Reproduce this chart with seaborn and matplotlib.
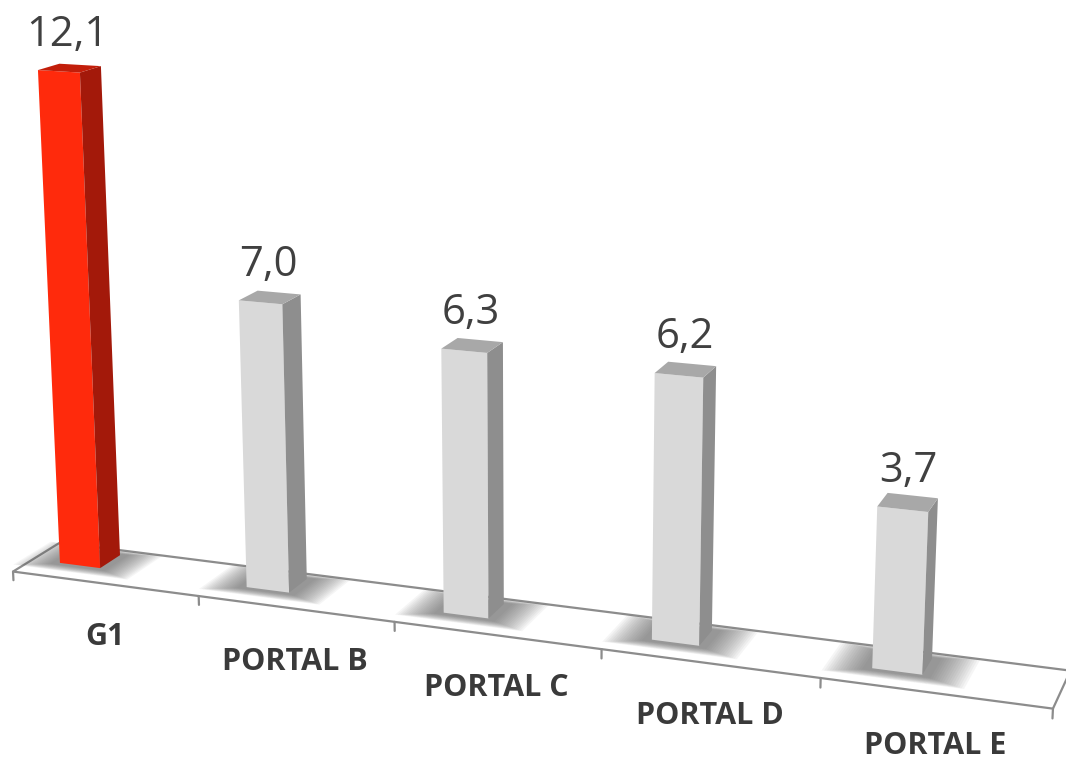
import numpy as np
import matplotlib
matplotlib.use("Agg")
import matplotlib.pyplot as plt
import matplotlib.transforms as mtransforms
from matplotlib.patches import Polygon
import seaborn as sns

# Data
categories = ["G1", "PORTAL B", "PORTAL C", "PORTAL D", "PORTAL E"]
values = [12.1, 7.0, 6.3, 6.2, 3.7]
front_colors = ["#FF2A0C", "#D9D9D9", "#D9D9D9", "#D9D9D9", "#D9D9D9"]
side_colors = ["#A3190A", "#8E8E8E", "#8E8E8E", "#8E8E8E", "#8E8E8E"]
top_colors = ["#C21E0A", "#A8A8A8", "#A8A8A8", "#A8A8A8", "#A8A8A8"]

# Perspective camera: (category, value, depth, 1) -> canvas pixels (homogeneous)
CAMERA = np.array([
    [180.8, -1.96, 97.3, 80.0],
    [8.9, -41.1, -23.8, 565.5],
    [-0.0262, -0.00363, 0.0626, 1.0],
])
BAR_WIDTH = 0.22
BAR_DEPTH = 0.22
FLOOR_X = (-0.26, 4.70)
FLOOR_Z = (-0.206, 0.293)
W_PX, H_PX = 1066, 762


def project(x, y, z):
    pts = np.column_stack([np.atleast_1d(x), np.atleast_1d(y), np.atleast_1d(z),
                           np.ones(np.size(np.atleast_1d(x)))]).astype(float)
    h = pts @ CAMERA.T
    return h[:, :2] / h[:, 2:3]


class Perspective(mtransforms.Transform):
    """Maps the front plane (category, value) at a given depth into canvas pixels."""
    input_dims = 2
    output_dims = 2
    is_separable = False
    has_inverse = False

    def __init__(self, z=0.0):
        super().__init__()
        self.z = z

    def transform_non_affine(self, values):
        values = np.asarray(values, dtype=float).reshape(-1, 2)
        return project(values[:, 0], values[:, 1], np.full(len(values), self.z))


sns.set_style("white")
fig = plt.figure(figsize=(W_PX / 100, H_PX / 100), dpi=100)
ax = fig.add_axes([0, 0, 1, 1])

sns.barplot(x=categories, y=values, hue=categories, palette=front_colors,
            width=BAR_WIDTH, linewidth=0, legend=False, ax=ax, saturation=1)

bars = list(ax.patches)

# Canvas in pixel units
ax.set_xlim(0, W_PX)
ax.set_ylim(H_PX, 0)
ax.set_axis_off()

persp = Perspective(0.0) + ax.transData

# Floor plane
fx0, fx1 = FLOOR_X
fz0, fz1 = FLOOR_Z
floor = project([fx0, fx1, fx1, fx0], [0, 0, 0, 0], [fz0, fz0, fz1, fz1])
ax.add_patch(Polygon(floor, closed=True, facecolor="white", edgecolor="#8C8C8C",
                     linewidth=1.6, zorder=0.5))
slot = (fx1 - fx0) / len(categories)
for k in range(len(categories) + 1):
    xt = fx0 + k * slot
    seg = project([xt, xt], [0, -0.22], [fz0, fz0])
    ax.plot(seg[:, 0], seg[:, 1], color="#8C8C8C", linewidth=1.6, zorder=0.6)

# Category labels centred in each floor slot, below the front edge
for k, name in enumerate(categories):
    xc = fx0 + (k + 0.5) * slot
    u, v = project(xc, 0, fz0)[0]
    ax.text(u, v + 61, name, ha="center", va="baseline", fontsize=22,
            fontweight="bold", color="#3A3A3A", family=["Open Sans", "DejaVu Sans"],
            zorder=5)

# Bars: front faces from seaborn, plus side, top and a soft floor shadow
for i, p in enumerate(bars):
    x0, w, h = p.get_x(), p.get_width(), p.get_height()
    x1 = x0 + w
    d = BAR_DEPTH

    # soft shadow on the floor
    for r in np.linspace(0.16, 0.0, 16):
        shp = project([x0 - 0.04 - r, x1 + 0.04 + r, x1 + 0.04 + r, x0 - 0.04 - r],
                      [0, 0, 0, 0],
                      [-0.03 - 0.5 * r, -0.03 - 0.5 * r, d + 0.02 + 0.3 * r,
                       d + 0.02 + 0.3 * r])
        ax.add_patch(Polygon(shp, closed=True, facecolor="#5A5A5A", edgecolor="none",
                             alpha=0.055, zorder=1))

    p.set_transform(persp)
    p.set_zorder(3)
    p.set_clip_on(False)

    side = project([x1, x1, x1, x1], [0, 0, h, h], [0, d, d, 0])
    ax.add_patch(Polygon(side, closed=True, facecolor=side_colors[i], edgecolor="none",
                         zorder=3))
    top = project([x0, x1, x1, x0], [h, h, h, h], [0, 0, d, d])
    ax.add_patch(Polygon(top, closed=True, facecolor=top_colors[i], edgecolor="none",
                         zorder=3))

    # value label above the bar
    u, v = project(x0 + w / 2, h, d * 0.25)[0]
    ax.text(u + 3, v - 24, f"{values[i]:.1f}".replace(".", ","), ha="center",
            va="baseline", fontsize=30, color="#404040",
            family=["Open Sans", "DejaVu Sans"], zorder=5)

fig.savefig("out.png", dpi=100)
